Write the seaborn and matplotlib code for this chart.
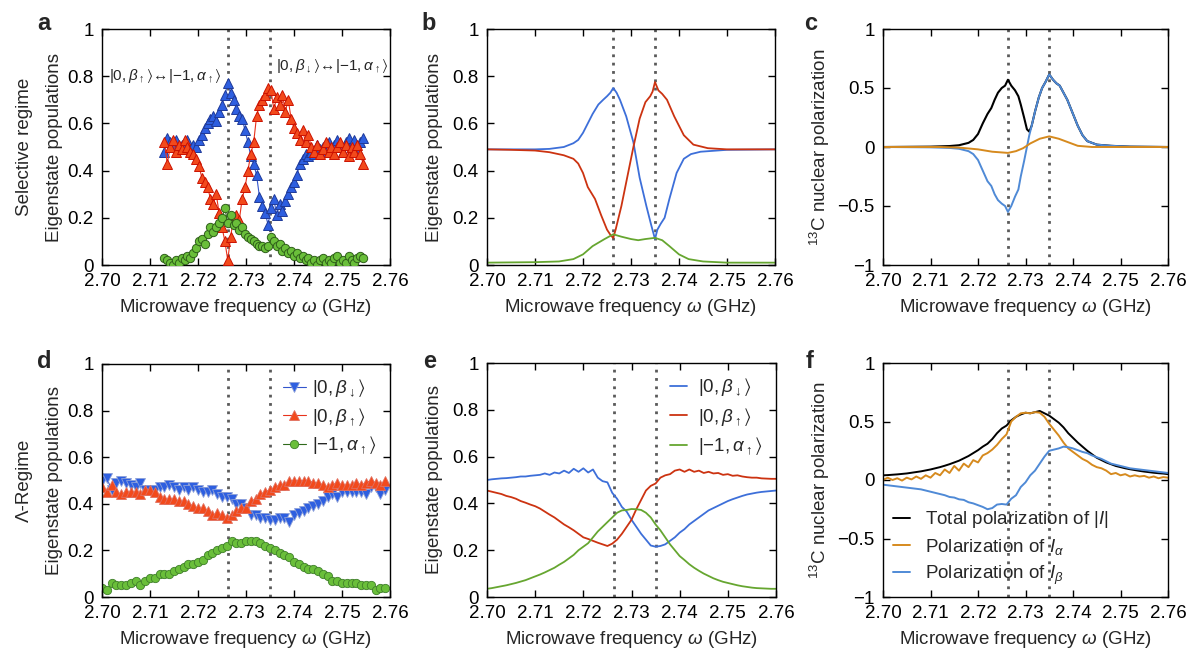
import numpy as np
import matplotlib
matplotlib.use("Agg")
import matplotlib.pyplot as plt
import seaborn as sns

# ---------------- data ----------------
# panel a (selective regime, measured)
xa = np.round(2.713 + 0.0006 * np.arange(70), 4)
a_beta_up = [0.48, 0.54, 0.52, 0.50, 0.53, 0.49, 0.51, 0.50, 0.53, 0.49,
             0.51, 0.50, 0.53, 0.55, 0.58, 0.60, 0.62, 0.63, 0.61, 0.65,
             0.68, 0.72, 0.77, 0.73, 0.70, 0.66, 0.63, 0.62, 0.57, 0.52,
             0.46, 0.43, 0.38, 0.29, 0.25, 0.22, 0.17, 0.24, 0.28, 0.21,
             0.26, 0.23, 0.27, 0.30, 0.33, 0.35, 0.38, 0.43, 0.45, 0.47,
             0.46, 0.48, 0.47, 0.51, 0.49, 0.50, 0.48, 0.52, 0.49, 0.51,
             0.53, 0.50, 0.48, 0.52, 0.54, 0.50, 0.53, 0.49, 0.52, 0.54]
a_beta_dn = [0.52, 0.43, 0.50, 0.53, 0.48, 0.51, 0.49, 0.53, 0.50, 0.48,
             0.47, 0.45, 0.42, 0.37, 0.35, 0.33, 0.28, 0.26, 0.30, 0.22,
             0.16, 0.10, 0.02, 0.12, 0.20, 0.21, 0.19, 0.28, 0.33, 0.40,
             0.47, 0.52, 0.63, 0.68, 0.70, 0.72, 0.75, 0.74, 0.66, 0.71,
             0.68, 0.72, 0.65, 0.70, 0.62, 0.58, 0.56, 0.53, 0.57, 0.52,
             0.55, 0.50, 0.48, 0.51, 0.47, 0.49, 0.52, 0.48, 0.50, 0.47,
             0.50, 0.52, 0.48, 0.51, 0.46, 0.50, 0.48, 0.51, 0.47, 0.43]
a_alpha = [0.03, 0.02, 0.01, 0.00, 0.02, 0.01, 0.03, 0.02, 0.04, 0.03,
           0.05, 0.07, 0.10, 0.11, 0.09, 0.13, 0.16, 0.14, 0.16, 0.18,
           0.20, 0.24, 0.18, 0.21, 0.17, 0.18, 0.15, 0.16, 0.13, 0.12,
           0.11, 0.10, 0.09, 0.08, 0.08, 0.07, 0.08, 0.12, 0.10, 0.08,
           0.09, 0.06, 0.07, 0.05, 0.06, 0.04, 0.05, 0.03, 0.04, 0.02,
           0.03, 0.01, 0.02, 0.00, 0.02, 0.03, 0.01, 0.02, 0.01, 0.03,
           0.04, 0.01, 0.02, 0.01, 0.04, 0.02, 0.01, 0.03, 0.04, 0.03]

# panel b (selective regime, simulated)
xb_blue = [2.700, 2.705, 2.710, 2.713, 2.716, 2.718, 2.719, 2.720, 2.721, 2.722,
           2.7232, 2.7242, 2.725, 2.7257, 2.7263, 2.7270, 2.7277, 2.729, 2.7305,
           2.7318, 2.7332, 2.7342, 2.735, 2.7355, 2.7362, 2.737, 2.738, 2.7395,
           2.741, 2.7425, 2.7445, 2.750, 2.760]
b_blue = [0.490, 0.490, 0.490, 0.492, 0.500, 0.516, 0.530, 0.560, 0.600, 0.640,
          0.680, 0.700, 0.715, 0.730, 0.750, 0.730, 0.700, 0.630, 0.520,
          0.370, 0.250, 0.170, 0.110, 0.150, 0.175, 0.200, 0.280, 0.390,
          0.450, 0.470, 0.480, 0.488, 0.490]
xb_red = [2.700, 2.705, 2.710, 2.713, 2.716, 2.718, 2.719, 2.720, 2.721, 2.7225,
          2.7238, 2.725, 2.7258, 2.7263, 2.7268, 2.728, 2.729, 2.7305, 2.7318,
          2.733, 2.734, 2.7345, 2.735, 2.7357, 2.7365, 2.7375, 2.739, 2.741,
          2.743, 2.746, 2.750, 2.760]
b_red = [0.490, 0.488, 0.485, 0.478, 0.465, 0.450, 0.430, 0.390, 0.330, 0.280,
         0.210, 0.150, 0.125, 0.115, 0.150, 0.250, 0.350, 0.500, 0.620,
         0.690, 0.715, 0.735, 0.775, 0.740, 0.725, 0.700, 0.630, 0.550,
         0.510, 0.495, 0.490, 0.490]
xb_green = [2.700, 2.710, 2.715, 2.718, 2.720, 2.722, 2.7245, 2.7263, 2.728, 2.730,
            2.7315, 2.733, 2.735, 2.7365, 2.738, 2.740, 2.742, 2.745, 2.750, 2.760]
b_green = [0.010, 0.012, 0.015, 0.025, 0.045, 0.080, 0.110, 0.130, 0.120, 0.110,
           0.105, 0.110, 0.115, 0.105, 0.080, 0.045, 0.025, 0.015, 0.010, 0.010]

# panel c (selective regime, polarization)
xc_black = [2.700, 2.710, 2.714, 2.716, 2.718, 2.719, 2.720, 2.721, 2.722, 2.7228,
            2.7235, 2.7242, 2.725, 2.7257, 2.7263, 2.727, 2.7278, 2.7285, 2.729,
            2.7297, 2.7303, 2.7308, 2.7313, 2.732, 2.7328, 2.7335, 2.7342, 2.735,
            2.7358, 2.7365, 2.7372, 2.738, 2.7388, 2.7395, 2.740, 2.741, 2.742,
            2.743, 2.745, 2.748, 2.752, 2.760]
c_black = [0.000, 0.003, 0.008, 0.015, 0.035, 0.060, 0.110, 0.200, 0.280, 0.330,
           0.400, 0.460, 0.500, 0.520, 0.570, 0.520, 0.480, 0.430, 0.360,
           0.250, 0.150, 0.130, 0.180, 0.300, 0.420, 0.500, 0.550, 0.615,
           0.570, 0.540, 0.520, 0.460, 0.400, 0.330, 0.280, 0.180, 0.100,
           0.050, 0.020, 0.010, 0.003, 0.000]
xc_blue = [2.700, 2.710, 2.714, 2.716, 2.718, 2.719, 2.720, 2.721, 2.722, 2.7228,
           2.7235, 2.7242, 2.725, 2.7257, 2.7263, 2.727, 2.7278, 2.7285, 2.729,
           2.7297, 2.7303, 2.7308, 2.7313, 2.732, 2.7328, 2.7335, 2.7342, 2.735,
           2.7358, 2.7365, 2.7372, 2.738, 2.7388, 2.7395, 2.740, 2.741, 2.742,
           2.743, 2.745, 2.748, 2.752, 2.760]
c_blue = [0.000, -0.003, -0.008, -0.015, -0.035, -0.060, -0.110, -0.200, -0.290, -0.330,
          -0.400, -0.450, -0.480, -0.500, -0.550, -0.500, -0.420, -0.360, -0.250,
          -0.120, 0.000, 0.100, 0.180, 0.300, 0.420, 0.500, 0.550, 0.615,
          0.570, 0.540, 0.520, 0.460, 0.400, 0.330, 0.280, 0.180, 0.100,
          0.050, 0.020, 0.010, 0.003, 0.000]
xc_orange = [2.700, 2.712, 2.716, 2.720, 2.723, 2.7263, 2.728, 2.7295, 2.731, 2.733,
             2.735, 2.737, 2.739, 2.741, 2.744, 2.760]
c_orange = [0.000, 0.000, -0.005, -0.020, -0.040, -0.050, -0.035, -0.010, 0.030, 0.070,
            0.090, 0.070, 0.040, 0.010, 0.000, 0.000]

# panel d (Lambda regime, measured)
xd = np.round(2.700 + 0.001 * np.arange(60), 3)
d_beta_dn = [0.50, 0.51, 0.46, 0.49, 0.50, 0.49, 0.48, 0.47, 0.49, 0.46,
             0.46, 0.46, 0.47, 0.47, 0.48, 0.47, 0.46, 0.47, 0.46, 0.47,
             0.46, 0.45, 0.45, 0.46, 0.44, 0.43, 0.43, 0.42, 0.40, 0.40,
             0.38, 0.35, 0.35, 0.34, 0.34, 0.33, 0.33, 0.34, 0.34, 0.32,
             0.35, 0.36, 0.37, 0.38, 0.39, 0.40, 0.41, 0.43, 0.44, 0.43,
             0.45, 0.45, 0.45, 0.45, 0.45, 0.44, 0.47, 0.47, 0.44, 0.46]
d_beta_up = [0.47, 0.45, 0.48, 0.45, 0.44, 0.45, 0.45, 0.45, 0.44, 0.46,
             0.46, 0.45, 0.43, 0.42, 0.42, 0.42, 0.41, 0.41, 0.40, 0.39,
             0.38, 0.38, 0.37, 0.35, 0.36, 0.35, 0.34, 0.35, 0.37, 0.38,
             0.38, 0.41, 0.42, 0.44, 0.45, 0.46, 0.47, 0.48, 0.48, 0.50,
             0.50, 0.50, 0.50, 0.50, 0.49, 0.49, 0.48, 0.47, 0.48, 0.49,
             0.48, 0.48, 0.48, 0.49, 0.48, 0.49, 0.50, 0.49, 0.48, 0.50]
d_alpha = [0.04, 0.03, 0.06, 0.05, 0.05, 0.05, 0.06, 0.07, 0.05, 0.07,
           0.08, 0.08, 0.10, 0.10, 0.10, 0.11, 0.12, 0.13, 0.14, 0.14,
           0.15, 0.16, 0.18, 0.19, 0.20, 0.21, 0.22, 0.24, 0.23, 0.23,
           0.24, 0.24, 0.24, 0.23, 0.22, 0.21, 0.20, 0.19, 0.18, 0.17,
           0.15, 0.14, 0.13, 0.12, 0.12, 0.11, 0.10, 0.09, 0.07, 0.07,
           0.06, 0.06, 0.06, 0.06, 0.05, 0.05, 0.05, 0.03, 0.04, 0.04]

# panels e, f (Lambda regime, simulated)
xe = np.round(2.700 + 0.001 * np.arange(61), 3)
e_blue = [0.500, 0.503, 0.505, 0.507, 0.508, 0.510, 0.512, 0.515, 0.515, 0.518,
          0.520, 0.522, 0.528, 0.522, 0.532, 0.528, 0.540, 0.530, 0.548, 0.535,
          0.550, 0.532, 0.545, 0.510, 0.495, 0.490, 0.445, 0.420, 0.385, 0.365,
          0.330, 0.300, 0.270, 0.245, 0.220, 0.215, 0.218, 0.225, 0.240, 0.255,
          0.275, 0.290, 0.310, 0.325, 0.340, 0.355, 0.370, 0.380, 0.390, 0.400,
          0.410, 0.418, 0.425, 0.432, 0.438, 0.442, 0.446, 0.449, 0.451, 0.453, 0.455]
e_red = [0.455, 0.450, 0.445, 0.440, 0.432, 0.427, 0.420, 0.410, 0.403, 0.395,
         0.388, 0.378, 0.365, 0.352, 0.340, 0.325, 0.310, 0.298, 0.285, 0.270,
         0.255, 0.248, 0.240, 0.232, 0.225, 0.218, 0.228, 0.245, 0.270, 0.300,
         0.330, 0.375, 0.415, 0.455, 0.475, 0.485, 0.510, 0.520, 0.525, 0.540,
         0.545, 0.535, 0.545, 0.535, 0.540, 0.530, 0.535, 0.528, 0.530, 0.522,
         0.525, 0.518, 0.520, 0.515, 0.512, 0.510, 0.510, 0.507, 0.506, 0.505, 0.505]
e_green = [0.035, 0.038, 0.042, 0.046, 0.050, 0.055, 0.060, 0.066, 0.072, 0.080,
           0.088, 0.096, 0.105, 0.115, 0.125, 0.138, 0.150, 0.165, 0.180, 0.200,
           0.215, 0.230, 0.255, 0.280, 0.300, 0.320, 0.340, 0.360, 0.370, 0.372,
           0.376, 0.375, 0.372, 0.360, 0.340, 0.310, 0.285, 0.255, 0.225, 0.200,
           0.175, 0.158, 0.140, 0.125, 0.112, 0.100, 0.090, 0.080, 0.072, 0.065,
           0.060, 0.055, 0.050, 0.046, 0.043, 0.040, 0.038, 0.037, 0.036, 0.035, 0.035]
f_total = [0.040, 0.042, 0.045, 0.048, 0.052, 0.056, 0.062, 0.068, 0.074, 0.082,
           0.090, 0.100, 0.110, 0.122, 0.135, 0.150, 0.165, 0.185, 0.205, 0.230,
           0.255, 0.285, 0.310, 0.350, 0.400, 0.440, 0.465, 0.510, 0.540, 0.560,
           0.575, 0.570, 0.580, 0.590, 0.570, 0.550, 0.520, 0.490, 0.450, 0.400,
           0.360, 0.320, 0.285, 0.250, 0.220, 0.190, 0.170, 0.150, 0.135, 0.120,
           0.110, 0.100, 0.092, 0.085, 0.078, 0.072, 0.067, 0.062, 0.058, 0.055, 0.050]
f_alpha = [0.000, 0.020, 0.000, 0.015, -0.005, 0.020, 0.005, 0.030, 0.010, 0.040,
           0.020, 0.060, 0.040, 0.090, 0.060, 0.120, 0.080, 0.140, 0.110, 0.170,
           0.150, 0.210, 0.230, 0.260, 0.300, 0.350, 0.390, 0.500, 0.540, 0.570,
           0.575, 0.570, 0.580, 0.575, 0.540, 0.480, 0.430, 0.380, 0.320, 0.270,
           0.240, 0.210, 0.180, 0.160, 0.130, 0.110, 0.100, 0.080, 0.050, 0.060,
           0.040, 0.050, 0.030, 0.040, 0.030, 0.035, 0.020, 0.030, 0.015, 0.025, 0.020]
f_beta = [-0.040, -0.045, -0.050, -0.055, -0.060, -0.065, -0.070, -0.075, -0.080, -0.090,
          -0.100, -0.110, -0.120, -0.130, -0.145, -0.150, -0.165, -0.170, -0.190, -0.200,
          -0.215, -0.230, -0.250, -0.240, -0.210, -0.205, -0.210, -0.160, -0.130, -0.060,
          -0.020, 0.040, 0.080, 0.140, 0.200, 0.250, 0.260, 0.270, 0.285, 0.280,
          0.270, 0.255, 0.240, 0.230, 0.210, 0.195, 0.180, 0.160, 0.140, 0.130,
          0.120, 0.110, 0.100, 0.095, 0.090, 0.085, 0.080, 0.075, 0.070, 0.065, 0.060]

resonances = [2.7263, 2.735]
xticks = [2.70, 2.71, 2.72, 2.73, 2.74, 2.75, 2.76]
xticklabels = ["2.70", "2.71", "2.72", "2.73", "2.74", "2.75", "2.76"]
pop_ticks = [0, 0.2, 0.4, 0.6, 0.8, 1]
pop_labels = ["0", "0.2", "0.4", "0.6", "0.8", "1"]
pol_ticks = [-1, -0.5, 0, 0.5, 1]
pol_labels = ["\u22121", "\u22120.5", "0", "0.5", "1"]

# ---------------- style ----------------
sns.set_theme(style="ticks")
plt.rcParams["font.family"] = ["Liberation Sans", "DejaVu Sans"]
plt.rcParams["mathtext.fontset"] = "custom"
plt.rcParams["mathtext.rm"] = "Liberation Sans"
plt.rcParams["mathtext.it"] = "Liberation Sans:italic"
plt.rcParams["mathtext.bf"] = "Liberation Sans:bold"
plt.rcParams["mathtext.fallback"] = "stixsans"
plt.rcParams["font.size"] = 13
plt.rcParams["axes.linewidth"] = 1.0
plt.rcParams["axes.edgecolor"] = "black"

FS = 13.5
C_BLUE = "#3d6fd9"
C_RED = "#cc3311"
C_GREEN = "#66a630"
C_BLUE2 = "#4f8ad6"
C_ORANGE = "#d68a1e"

fig = plt.figure(figsize=(11.89, 6.5), dpi=100)
W, H = 1189, 650


def make_ax(l, t, r, b):
    return fig.add_axes([l / W, 1 - b / H, (r - l) / W, (b - t) / H])


ax_a = make_ax(102, 29, 390, 265)
ax_b = make_ax(487, 29, 775, 265)
ax_c = make_ax(883, 29, 1168, 265)
ax_d = make_ax(102, 364, 390, 597)
ax_e = make_ax(487, 363, 776, 597)
ax_f = make_ax(883, 363, 1168, 597)

XLAB = r"Microwave frequency $\omega$ (GHz)"


def style(ax, pol=False):
    ax.set_xlim(2.70, 2.76)
    ax.set_xticks(xticks)
    ax.set_xticklabels(xticklabels)
    if pol:
        ax.set_ylim(-1, 1)
        ax.set_yticks(pol_ticks)
        ax.set_yticklabels(pol_labels)
    else:
        ax.set_ylim(0, 1)
        ax.set_yticks(pop_ticks)
        ax.set_yticklabels(pop_labels)
    ax.tick_params(direction="in", length=5, width=1, labelsize=FS,
                   top=True, right=True, colors="black")
    ax.tick_params(axis="x", pad=5.5)
    ax.tick_params(axis="y", pad=6)
    for s in ax.spines.values():
        s.set_visible(True)
        s.set_color("black")
        s.set_linewidth(1.0)
    for xv in resonances:
        ax.axvline(xv, color="#5a5a5a", lw=2.0, ls=(0, (1, 2)), zorder=0.5)
    ax.set_xlabel(XLAB, fontsize=FS, labelpad=5)


# panel a
sns.lineplot(x=xa, y=a_beta_up, ax=ax_a, color="#3355cc", lw=0.8, marker="^",
             markersize=7, markerfacecolor="#2e5fe0", markeredgecolor="#1f3a99",
             markeredgewidth=0.7, zorder=3)
sns.lineplot(x=xa, y=a_beta_dn, ax=ax_a, color="#e8321c", lw=0.8, marker="^",
             markersize=7, markerfacecolor="#f24a1c", markeredgecolor="#cc1100",
             markeredgewidth=0.7, zorder=3)
sns.lineplot(x=xa, y=a_alpha, ax=ax_a, color="#2f6a1a", lw=0.8, marker="o",
             markersize=6, markerfacecolor="#6abf3a", markeredgecolor="#2f5f1a",
             markeredgewidth=0.7, zorder=4)
style(ax_a)
ax_a.set_ylabel("Selective regime\nEigenstate populations", fontsize=FS,
                labelpad=3, linespacing=2.0)
ax_a.text(2.7015, 0.80, r"$|0,\beta_{\uparrow}\rangle\!\leftrightarrow\!|{-}1,\alpha_{\uparrow}\rangle$",
          fontsize=11, ha="left", va="center")
ax_a.text(2.7362, 0.845, r"$|0,\beta_{\downarrow}\rangle\!\leftrightarrow\!|{-}1,\alpha_{\uparrow}\rangle$",
          fontsize=11, ha="left", va="center")

# panel b
sns.lineplot(x=xb_blue, y=b_blue, ax=ax_b, color=C_BLUE, lw=1.3)
sns.lineplot(x=xb_red, y=b_red, ax=ax_b, color=C_RED, lw=1.3)
sns.lineplot(x=xb_green, y=b_green, ax=ax_b, color=C_GREEN, lw=1.3)
style(ax_b)
ax_b.set_ylabel("Eigenstate populations", fontsize=FS, labelpad=7)

# panel c
sns.lineplot(x=xc_black, y=c_black, ax=ax_c, color="black", lw=1.5)
sns.lineplot(x=xc_blue, y=c_blue, ax=ax_c, color=C_BLUE2, lw=1.4)
sns.lineplot(x=xc_orange, y=c_orange, ax=ax_c, color=C_ORANGE, lw=1.4)
style(ax_c, pol=True)
ax_c.set_ylabel(r"$^{13}$C nuclear polarization", fontsize=FS, labelpad=4)

# panel d
sns.lineplot(x=xd, y=d_beta_dn, ax=ax_d, color="#3355cc", lw=0.8, marker="v",
             markersize=7, markerfacecolor="#2e5fe0", markeredgecolor="#8da0d8",
             markeredgewidth=0.6, label=r"$|0,\beta_{\downarrow}\rangle$")
sns.lineplot(x=xd, y=d_beta_up, ax=ax_d, color="#e8321c", lw=0.8, marker="^",
             markersize=7, markerfacecolor="#f24a1c", markeredgecolor="#e07060",
             markeredgewidth=0.6, label=r"$|0,\beta_{\uparrow}\rangle$")
sns.lineplot(x=xd, y=d_alpha, ax=ax_d, color="#2f6a1a", lw=0.8, marker="o",
             markersize=6, markerfacecolor="#6abf3a", markeredgecolor="#3f7f2a",
             markeredgewidth=0.6, label=r"$|{-}1,\alpha_{\uparrow}\rangle$")
style(ax_d)
ax_d.set_ylabel("\u039b-Regime\nEigenstate populations", fontsize=FS,
                labelpad=3, linespacing=2.0)
ax_d.legend(loc="upper right", frameon=False, fontsize=FS, handlelength=1.2,
            handletextpad=0.35, labelspacing=0.35, borderaxespad=0.3)

# panel e
sns.lineplot(x=xe, y=e_blue, ax=ax_e, color=C_BLUE, lw=1.3, label=r"$|0,\beta_{\downarrow}\rangle$")
sns.lineplot(x=xe, y=e_red, ax=ax_e, color=C_RED, lw=1.3, label=r"$|0,\beta_{\uparrow}\rangle$")
sns.lineplot(x=xe, y=e_green, ax=ax_e, color=C_GREEN, lw=1.3, label=r"$|{-}1,\alpha_{\uparrow}\rangle$")
style(ax_e)
ax_e.set_ylabel("Eigenstate populations", fontsize=FS, labelpad=7)
ax_e.legend(loc="upper right", frameon=False, fontsize=FS, handlelength=0.9,
            handletextpad=0.6, labelspacing=0.4, borderaxespad=0.3)

# panel f
sns.lineplot(x=xe, y=f_total, ax=ax_f, color="black", lw=1.4, label="Total polarization of |$I$|")
sns.lineplot(x=xe, y=f_alpha, ax=ax_f, color=C_ORANGE, lw=1.4, label=r"Polarization of $I_{\alpha}$")
sns.lineplot(x=xe, y=f_beta, ax=ax_f, color=C_BLUE2, lw=1.4, label=r"Polarization of $I_{\beta}$")
style(ax_f, pol=True)
ax_f.set_ylabel(r"$^{13}$C nuclear polarization", fontsize=FS, labelpad=4)
ax_f.legend(loc="lower left", frameon=False, fontsize=FS, handlelength=0.9,
            handletextpad=0.8, labelspacing=0.35, borderaxespad=0.15)

# panel letters
for lab, px, py in [("a", 37, 12), ("b", 421, 12), ("c", 804, 12),
                    ("d", 37, 350), ("e", 423, 350), ("f", 806, 350)]:
    fig.text(px / W, 1 - py / H, lab, fontsize=17, fontweight="bold",
             ha="left", va="top")

fig.savefig("out.png", dpi=100)
